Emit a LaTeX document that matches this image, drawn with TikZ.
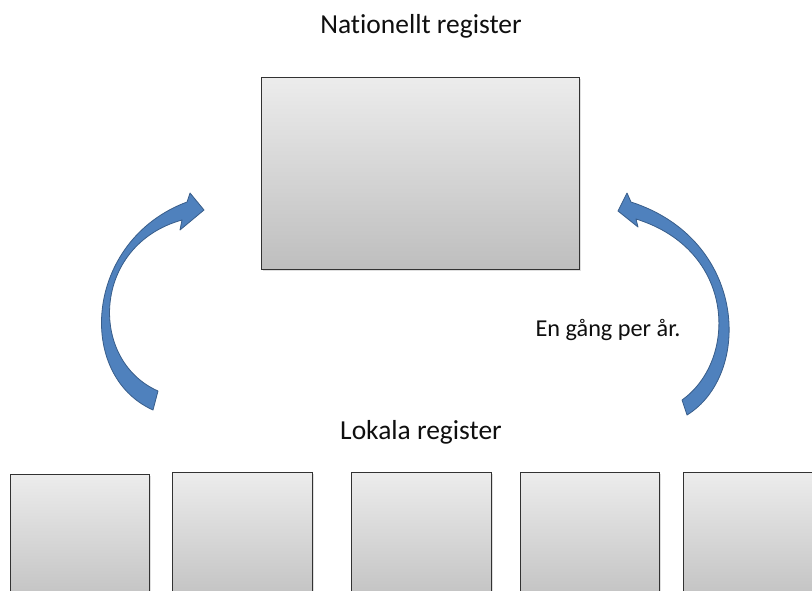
\documentclass[tikz,border=0pt]{standalone}
\usepackage{fontspec}
\setmainfont[Ligatures={NoCommon}]{Carlito}
\usetikzlibrary{shadows}
\definecolor{arrowfill}{RGB}{79,129,189}
\definecolor{arrowedge}{RGB}{56,93,138}
\definecolor{boxedge}{RGB}{50,50,50}
\definecolor{boxtop}{RGB}{236,236,236}
\definecolor{boxbot}{RGB}{190,190,190}
\definecolor{txt}{RGB}{15,15,15}
\tikzset{
  regbox/.style 2 args={draw=boxedge, line width=1pt, top color=boxtop, bottom color=boxbot,
    anchor=north west, inner sep=0pt, minimum width=#1*0.75pt, minimum height=#2*0.75pt,
    drop shadow={opacity=0.25, shadow xshift=0.8pt, shadow yshift=-0.8pt}},
  bigtext/.style={font=\fontsize{20.6}{24}\selectfont, text=txt, inner sep=0pt},
  smalltext/.style={font=\fontsize{18.2}{21}\selectfont, text=txt, inner sep=0pt},
  curvearrow/.style={fill=arrowfill, draw=arrowedge, line width=0.6pt, line join=round}
}
\begin{document}
\begin{tikzpicture}[x=0.75pt,y=-0.75pt]
\useasboundingbox (0,0) rectangle (812,590);
\clip (0,0) rectangle (812,590);
\fill[white] (0,0) rectangle (812,590);

% labels
\node[bigtext] (natlabel) at (421,26) {Nationellt register};
\node[bigtext] (loklabel) at (421,432) {Lokala register};
\node[smalltext] (freq) at (608,330) {En gång per år.};

% national register box
\node[regbox={318}{192}] (nat) at (261,77) {};

% local register boxes
\node[regbox={139}{140}] (lok1) at (10,474) {};
\node[regbox={140}{140}] (lok2) at (172,472) {};
\node[regbox={140}{140}] (lok3) at (351,472) {};
\node[regbox={139}{140}] (lok4) at (520,472) {};
\node[regbox={150}{140}] (lok5) at (683,472) {};

% left curved arrow (up towards national register)
\path[curvearrow] (153,410) .. controls (75,375) and (85,240) .. (187,202)
  -- (190,193) -- (204,210) -- (180,230) -- (182,220)
  .. controls (92,245) and (88,360) .. (158,391) -- cycle;

% right curved arrow
\path[curvearrow] (687,415) .. controls (752,375) and (748,240) .. (631,202)
  -- (627,193) -- (618,211) -- (638,227) -- (636,219)
  .. controls (736,250) and (738,360) .. (682,400) -- cycle;
\end{tikzpicture}
\end{document}
